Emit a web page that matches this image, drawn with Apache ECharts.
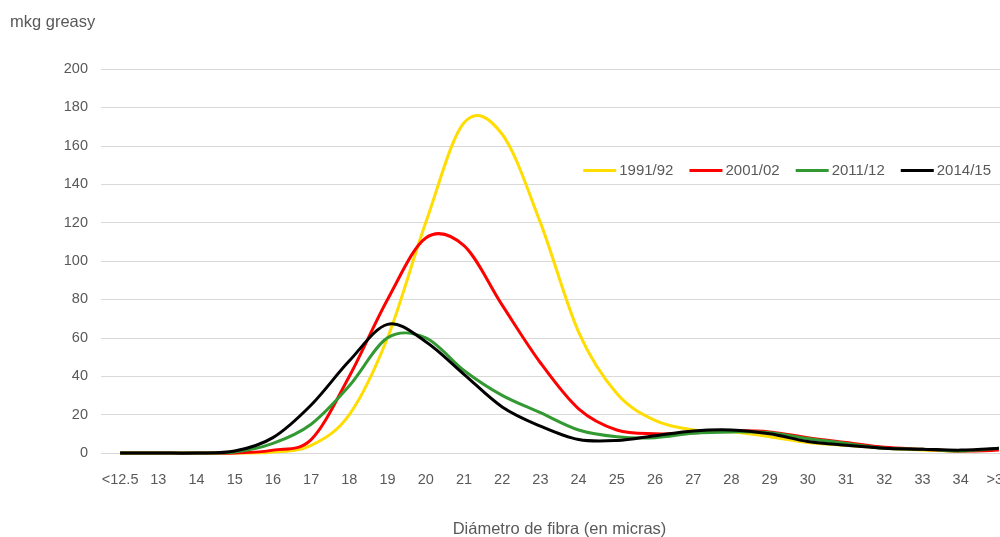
<!DOCTYPE html>
<html>
<head>
<meta charset="utf-8">
<script src="https://cdn.jsdelivr.net/npm/echarts@6/dist/echarts.min.js"></script>
<style>
  html, body { margin: 0; padding: 0; background: #fff; }
  #chart { width: 1000px; height: 537px; }
</style>
</head>
<body>
<div id="chart"></div>
<script>
// categorías del diámetro de fibra
const micras = ['<12.5', '13', '14', '15', '16', '17', '18', '19', '20', '21', '22', '23',
  '24', '25', '26', '27', '28', '29', '30', '31', '32', '33', '34', '>34']

// mkg greasy por temporada
const s1991 = [0, 0, 0, 0, 0.5, 4, 20, 60, 120, 172, 166, 120, 63, 31, 17, 12, 11, 8.5, 5.5, 4, 2.5, 1.5, 1, 2]
const s2001 = [0, 0, 0, 0, 1.5, 7, 40, 80, 112, 108, 77, 47, 23, 12, 10, 10.5, 11.5, 11, 8, 5.5, 3, 2, 1, 1.5]
const s2011 = [0, 0, 0, 0.5, 5, 15, 35, 60, 60, 43, 30, 21, 12, 8.5, 8, 10.3, 11, 10.5, 7.5, 5, 2.5, 2, 1, 2.5]
const s2014 = [0, 0, 0, 1, 8, 25, 48, 67, 58, 41, 24, 14, 7, 6.5, 9, 11.5, 12, 10, 6, 4, 2.5, 2, 1.5, 2.5]

const seriesNames = ['1991/92', '2001/02', '2011/12', '2014/15']
const colores = ['#FFDD00', '#FF0000', '#339933', '#000000']
const valores = [s1991, s2001, s2011, s2014]

const textColor = '#595959'
const font = 'Liberation Sans, Arial, sans-serif'

// curva suavizada tipo Excel (Catmull-Rom) a partir de las coordenadas del eje
function smoothPath(pts) {
  let d = 'M' + pts[0][0] + ',' + pts[0][1]
  for (let k = 0; k < pts.length - 1; k++) {
    const p0 = pts[Math.max(k - 1, 0)]
    const p1 = pts[k]
    const p2 = pts[k + 1]
    const p3 = pts[Math.min(k + 2, pts.length - 1)]
    const c1x = p1[0] + (p2[0] - p0[0]) / 6
    const c1y = p1[1] + (p2[1] - p0[1]) / 6
    const c2x = p2[0] - (p3[0] - p1[0]) / 6
    const c2y = p2[1] - (p3[1] - p1[1]) / 6
    d += 'C' + c1x + ',' + c1y + ',' + c2x + ',' + c2y + ',' + p2[0] + ',' + p2[1]
  }
  return d
}

const chart = echarts.init(document.getElementById('chart'))

const option = {
  animation: false,
  textStyle: { fontFamily: font },
  title: {
    text: 'mkg greasy',
    left: 5,
    top: 9,
    textStyle: { fontSize: 16.5, fontWeight: 'normal', color: textColor, fontFamily: font }
  },
  legend: {
    data: seriesNames,
    right: 4,
    top: 158,
    icon: 'rect',
    itemWidth: 33,
    itemHeight: 3,
    itemGap: 16,
    textStyle: { fontSize: 15, color: textColor, padding: [0, 0, 0, -2] }
  },
  grid: { left: 101, top: 69, right: -18, bottom: 84, outerBoundsMode: 'none', containLabel: false },
  xAxis: {
    type: 'category',
    data: micras,
    boundaryGap: true,
    name: 'Diámetro de fibra (en micras)',
    nameLocation: 'middle',
    nameGap: 68,
    nameTextStyle: { fontSize: 16.5, color: textColor },
    axisLine: { show: false },
    axisTick: { show: false },
    axisLabel: { color: textColor, fontSize: 14.5, margin: 19, interval: 0 }
  },
  yAxis: {
    type: 'value',
    min: 0,
    max: 200,
    interval: 20,
    axisLine: { show: false },
    axisTick: { show: false },
    axisLabel: { color: textColor, fontSize: 14.5, margin: 13 },
    splitLine: { lineStyle: { color: '#d9d9d9', width: 1 } }
  },
  series: seriesNames.map((name, i) => ({
    name: name,
    type: 'custom',
    data: valores[i].map((v, k) => [k, v]),
    encode: { x: 0, y: 1 },
    itemStyle: { color: colores[i] },
    clip: false,
    renderItem: (params, api) => {
      if (params.dataIndex !== 0) return null
      const pts = valores[i].map((v, k) => api.coord([k, v]))
      return {
        type: 'path',
        shape: { pathData: smoothPath(pts) },
        style: { fill: 'none', stroke: colores[i], lineWidth: 3, lineJoin: 'round' },
        z2: i
      }
    }
  }))
}

chart.setOption(option)
</script>
</body>
</html>
